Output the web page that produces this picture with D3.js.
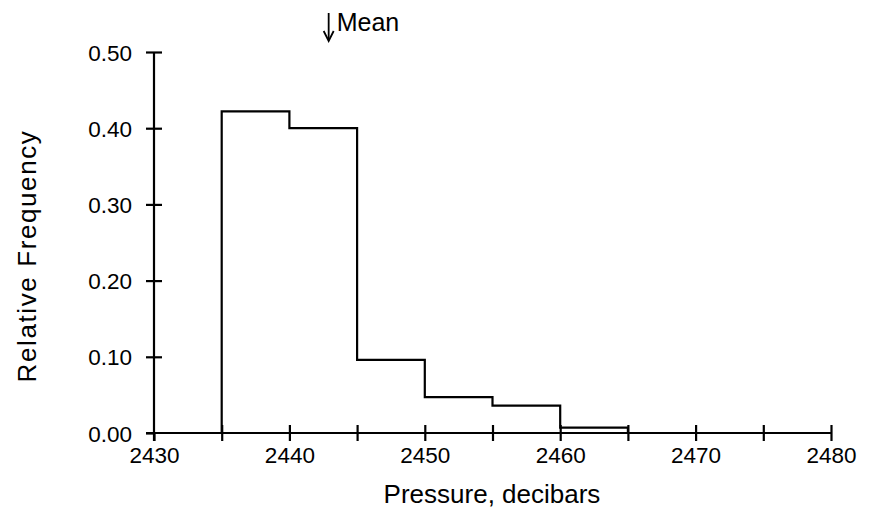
<!DOCTYPE html>
<html>
<head>
<meta charset="utf-8">
<script src="https://cdn.jsdelivr.net/npm/d3@7"></script>
<style>
  body { margin: 0; background: #fff; }
  svg text { font-family: "Liberation Sans", Arial, Helvetica, sans-serif; fill: #000; }
</style>
</head>
<body>
<svg id="chart" width="879" height="512"></svg>
<script>
// Histogram bins (lower edges), width 5 decibars
const binStarts = [2435, 2440, 2445, 2450, 2455, 2460];
const binWidth = 5;
const relFreq = [0.422, 0.400, 0.096, 0.047, 0.036, 0.007];
const xTickValues = [2430, 2440, 2450, 2460, 2470, 2480];
const xMinorTicks = [2435, 2445, 2455, 2465, 2475];
const yTickValues = [0.00, 0.10, 0.20, 0.30, 0.40, 0.50];
const meanValue = 2442.9;

const svg = d3.select("#chart");
const x = d3.scaleLinear().domain([2430, 2480]).range([154, 831]);
const y = d3.scaleLinear().domain([0, 0.5]).range([433, 52]);
const fs = 22.5;
const sw = 2.2;

// x axis
const xAxis = d3.axisBottom(x).tickValues(xTickValues.concat(xMinorTicks))
  .tickSizeInner(8).tickSizeOuter(0).tickFormat("");
const gx = svg.append("g").attr("transform", `translate(0,${y(0)})`).call(xAxis);
gx.select(".domain").attr("stroke", "#000").attr("stroke-width", sw)
  .attr("d", `M${x(2430) - 8},0H${x(2480)}`);
gx.selectAll(".tick line").attr("stroke", "#000").attr("stroke-width", sw)
  .attr("y1", d => d === 2430 ? 0 : -8).attr("y2", 8);
gx.selectAll(".tick").filter(d => xTickValues.includes(d)).append("text")
  .attr("y", 30).attr("text-anchor", "middle").style("font-size", fs + "px")
  .text(d => d);

// y axis
const yAxis = d3.axisLeft(y).tickValues(yTickValues).tickSizeInner(8).tickSizeOuter(0)
  .tickFormat("");
const gy = svg.append("g").attr("transform", `translate(${x(2430)},0)`).call(yAxis);
gy.select(".domain").attr("stroke", "#000").attr("stroke-width", sw)
  .attr("d", `M0,${y(0) + 8}V${y(0.5)}`);
gy.selectAll(".tick line").attr("stroke", "#000").attr("stroke-width", sw)
  .attr("x1", d => d === 0 ? 0 : 8).attr("x2", -8);
gy.selectAll(".tick").append("text")
  .attr("x", -22).attr("dy", "0.36em").attr("text-anchor", "end")
  .style("font-size", fs + "px").text(d => d3.format(".2f")(d));

// histogram outline as steps
const pts = [[binStarts[0], 0]];
binStarts.forEach((b, i) => {
  pts.push([b, relFreq[i]]);
  pts.push([b + binWidth, relFreq[i]]);
});
pts.push([binStarts[binStarts.length - 1] + binWidth, 0]);
svg.append("path")
  .attr("d", d3.line().x(d => x(d[0])).y(d => y(d[1]))(pts))
  .attr("fill", "none").attr("stroke", "#000").attr("stroke-width", sw);

// mean marker
const mx = x(meanValue);
svg.append("line").attr("x1", mx).attr("x2", mx).attr("y1", 13).attr("y2", 40)
  .attr("stroke", "#000").attr("stroke-width", 1.8);
svg.append("path").attr("d", `M${mx - 5},31L${mx},41L${mx + 5},31`)
  .attr("fill", "none").attr("stroke", "#000").attr("stroke-width", 1.8);
svg.append("text").attr("x", mx + 8).attr("y", 31).style("font-size", "25px")
  .text("Mean");

// axis titles
svg.append("text").attr("x", 492).attr("y", 503).attr("text-anchor", "middle")
  .style("font-size", "26px").text("Pressure, decibars");
svg.append("text").attr("transform", "translate(36,256) rotate(-90)")
  .attr("text-anchor", "middle").style("font-size", "26px").style("letter-spacing", "1.6px")
  .text("Relative Frequency");
</script>
</body>
</html>
